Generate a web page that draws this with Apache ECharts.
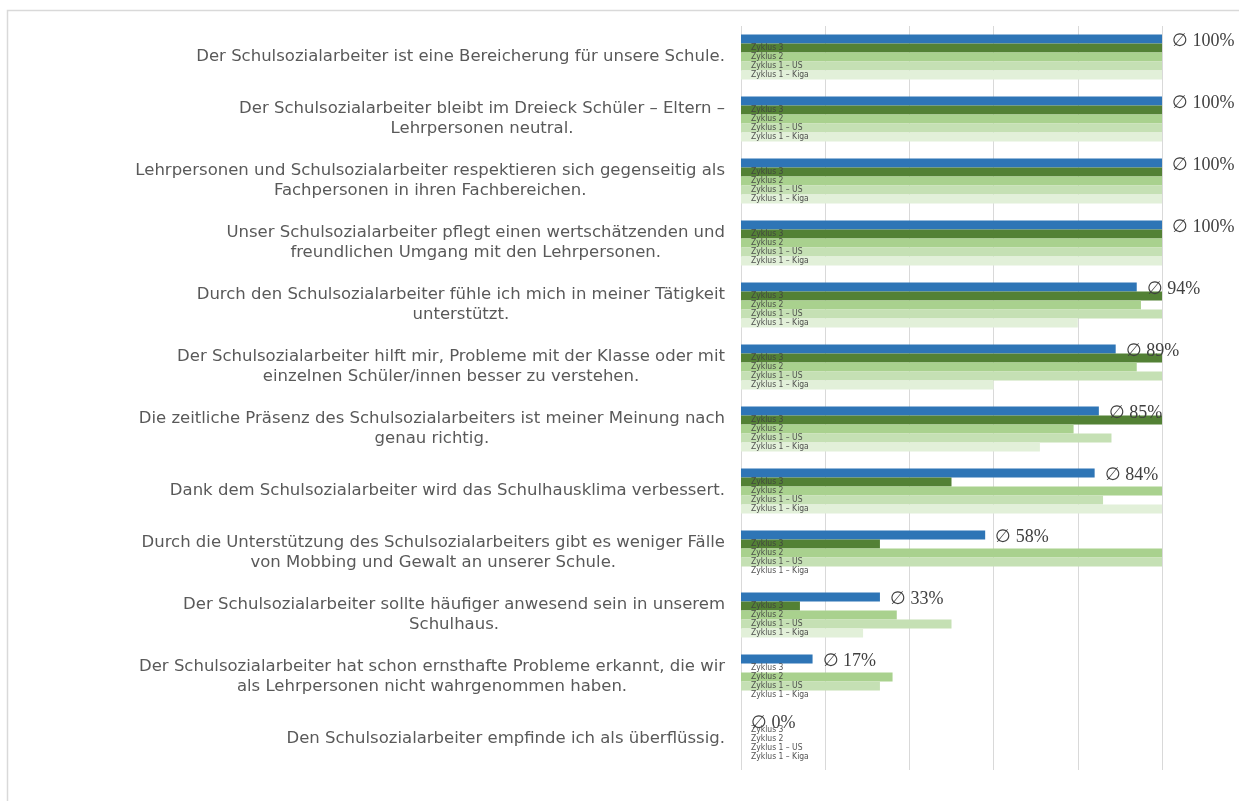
<!DOCTYPE html>
<html>
<head>
<meta charset="utf-8">
<script src="https://cdn.jsdelivr.net/npm/echarts@6/dist/echarts.min.js"></script>
<style>
  html, body { margin: 0; padding: 0; background: #fff; }
  #chart { width: 1239px; height: 801px; }
</style>
</head>
<body>
<div id="chart"></div>
<script>
var categories = [
    "Der Schulsozialarbeiter ist eine Bereicherung für unsere Schule.",
    "Der Schulsozialarbeiter bleibt im Dreieck Schüler – Eltern –\nLehrpersonen neutral.",
    "Lehrpersonen und Schulsozialarbeiter respektieren sich gegenseitig als\nFachpersonen in ihren Fachbereichen.",
    "Unser Schulsozialarbeiter pflegt einen wertschätzenden und\nfreundlichen Umgang mit den Lehrpersonen.",
    "Durch den Schulsozialarbeiter fühle ich mich in meiner Tätigkeit\nunterstützt.",
    "Der Schulsozialarbeiter hilft mir, Probleme mit der Klasse oder mit\neinzelnen Schüler/innen besser zu verstehen.",
    "Die zeitliche Präsenz des Schulsozialarbeiters ist meiner Meinung nach\ngenau richtig.",
    "Dank dem Schulsozialarbeiter wird das Schulhausklima verbessert.",
    "Durch die Unterstützung des Schulsozialarbeiters gibt es weniger Fälle\nvon Mobbing und Gewalt an unserer Schule.",
    "Der Schulsozialarbeiter sollte häufiger anwesend sein in unserem\nSchulhaus.",
    "Der Schulsozialarbeiter hat schon ernsthafte Probleme erkannt, die wir\nals Lehrpersonen nicht wahrgenommen haben.",
    "Den Schulsozialarbeiter empfinde ich als überflüssig."
];

// Durchschnitt (Ø) und die einzelnen Zyklen, in %
var avgValues   = [100, 100, 100, 100, 94, 89, 85, 84, 58, 33, 17, 0];
var zyklus3     = [100, 100, 100, 100, 100, 100, 100, 50, 33, 14, 0, 0];
var zyklus2     = [100, 100, 100, 100, 95, 94, 79, 100, 100, 37, 36, 0];
var zyklus1US   = [100, 100, 100, 100, 100, 100, 88, 86, 100, 50, 33, 0];
var zyklus1Kiga = [100, 100, 100, 100, 80, 60, 71, 100, 0, 29, 0, 0];

var seriesNames = ["Ø", "Zyklus 3", "Zyklus 2", "Zyklus 1 – US", "Zyklus 1 – Kiga"];
var seriesColors = ["#2E75B6", "#538135", "#A9D18E", "#C5E0B4", "#E2F0D9"];
var seriesData = [avgValues, zyklus3, zyklus2, zyklus1US, zyklus1Kiga];

var series = seriesData.map(function (data, i) {
    var s = {
        name: seriesNames[i],
        type: "bar",
        data: data,
        barWidth: 9,
        barGap: "0%",
        itemStyle: { color: seriesColors[i] },
        animation: false
    };
    if (i === 0) {
        s.label = {
            show: true,
            position: "right",
            distance: 10,
            offset: [0, 2],
            formatter: "∅ {c}%",
            fontFamily: "'Liberation Serif', 'DejaVu Serif', serif",
            fontSize: 18,
            color: "#404040"
        };
    } else {
        // kleine Beschriftung im Balken
        s.label = {
            show: true,
            position: "insideLeft",
            distance: 10,
            formatter: seriesNames[i],
            fontFamily: "'DejaVu Sans Condensed', 'DejaVu Sans', sans-serif",
            fontSize: 8.5,
            color: "rgba(64,64,64,0.9)"
        };
    }
    return s;
});

var chart = echarts.init(document.getElementById("chart"));
chart.setOption({
    backgroundColor: "#fff",
    animation: false,
    graphic: [{
        type: "rect",
        left: 5, top: 8,
        shape: { width: 1300, height: 900 },
        style: { fill: "none", stroke: "#D9D9D9", lineWidth: 1.5 }
    }],
    grid: { left: 741, right: 77, top: 26, bottom: 31 },
    xAxis: {
        type: "value",
        min: 0, max: 100, interval: 20,
        axisLabel: { show: false },
        axisLine: { show: false },
        axisTick: { show: false },
        splitLine: { show: true, lineStyle: { color: "#D9D9D9", width: 1 } }
    },
    yAxis: {
        type: "category",
        inverse: true,
        data: categories,
        axisLine: { show: false },
        axisTick: { show: false },
        axisLabel: {
            margin: 16,
            formatter: function (v) {
                return v.split("\n").map(function (line) {
                    return "{c|" + line + "}";
                }).join("\n");
            },
            rich: {
                c: {
                    align: "center",
                    fontFamily: "'DejaVu Sans', sans-serif",
                    fontSize: 16.5,
                    lineHeight: 20,
                    color: "#595959"
                }
            }
        }
    },
    series: series
});
</script>
</body>
</html>
